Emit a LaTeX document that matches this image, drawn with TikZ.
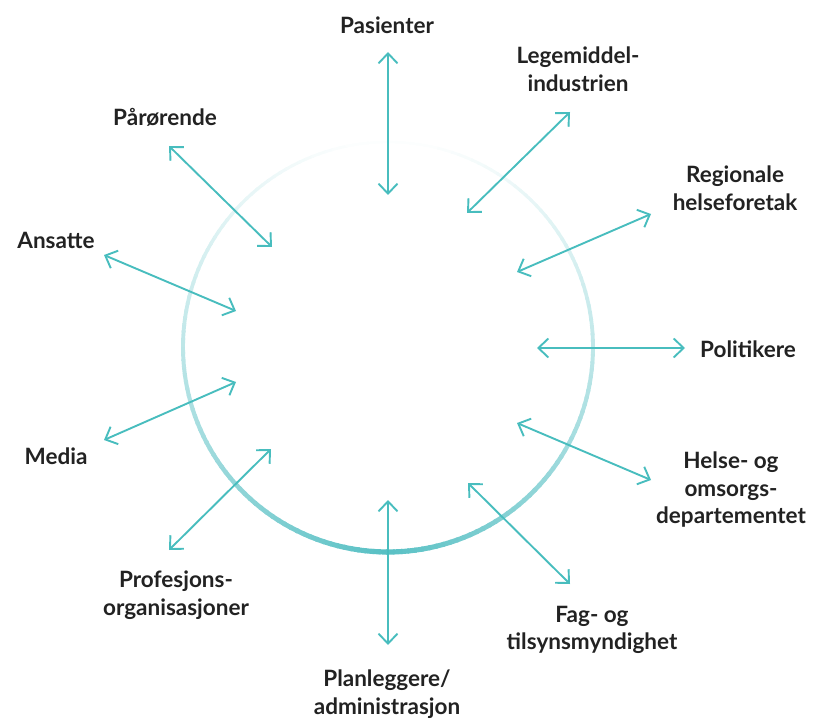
\documentclass[tikz,border=0pt]{standalone}
\usepackage{fontspec}
\setmainfont{Lato}
\usetikzlibrary{arrows.meta}
\definecolor{tealarrow}{RGB}{72,189,190}
\definecolor{tealring}{RGB}{88,192,196}
\definecolor{labeltext}{RGB}{34,34,34}
\begin{document}
\begin{tikzpicture}[x=1pt,y=-1pt,
  actor/.style={font=\fontsize{22.5}{27.5}\selectfont\bfseries, text=labeltext, align=center, inner sep=0pt},
  link/.style={tealarrow, line width=1.9pt, {Straight Barb[length=10pt,width=19pt]}-{Straight Barb[length=10pt,width=19pt]}}]
\useasboundingbox (0,0) rectangle (813,719);
\coordinate (C) at (388,347);
% ring, fading from the bottom to the top
\foreach \a in {0,2,...,358} {
  \pgfmathsetmacro\d{min(abs(\a-90),360-abs(\a-90))}
  \pgfmathtruncatemacro\p{max(2,100*(1-\d/180)^1.35)}
  \pgfmathsetmacro\w{2.6+2.6*(1-\d/180)}
  \draw[tealring!\p!white, line width=\w pt] (C) ++(\a:205) arc[start angle=\a, end angle=\a+2.6, radius=205];
}
% actors
\node (P) [actor] at (387,25) {Pasienter};
\node (L) [actor] at (578,69) {Legemiddel-\\industrien};
\node (PA) [actor] at (165,117) {Pårørende};
\node (R) [actor] at (735,188) {Regionale\\helseforetak};
\node (A) [actor] at (56,240) {Ansatte};
\node (PO) [actor] at (748,349) {Politikere};
\node (H) [actor] at (731,490) {Helse- og\\omsorgs-\\departementet};
\node (M) [actor] at (56,456) {Media};
\node (PR) [actor] at (176,595) {Profesjons-\\organisasjoner};
\node (F) [actor] at (592,630) {Fag- og\\tilsynsmyndighet};
\node (PL) [actor] at (387,694) {Planleggere/\\administrasjon};
% arrow ends
\coordinate (Po) at (388,52); \coordinate (Pi) at (388,195);
\coordinate (Lo) at (570,112); \coordinate (Li) at (467,213);
\coordinate (PAo) at (169,146); \coordinate (PAi) at (272,247);
\coordinate (Ro) at (651,214); \coordinate (Ri) at (517,272);
\coordinate (Ao) at (104,255); \coordinate (Ai) at (236,311);
\coordinate (POo) at (685,348); \coordinate (POi) at (537,348);
\coordinate (Ho) at (651,480); \coordinate (Hi) at (517,423);
\coordinate (Mo) at (104,440); \coordinate (Mi) at (236,382);
\coordinate (PRo) at (169,550); \coordinate (PRi) at (271,449);
\coordinate (Fo) at (570,584); \coordinate (Fi) at (468,483);
\coordinate (PLo) at (388,645); \coordinate (PLi) at (388,500);
\foreach \n in {P,L,PA,R,A,PO,H,M,PR,F,PL} \draw[link] (\n o) -- (\n i);
\end{tikzpicture}
\end{document}
